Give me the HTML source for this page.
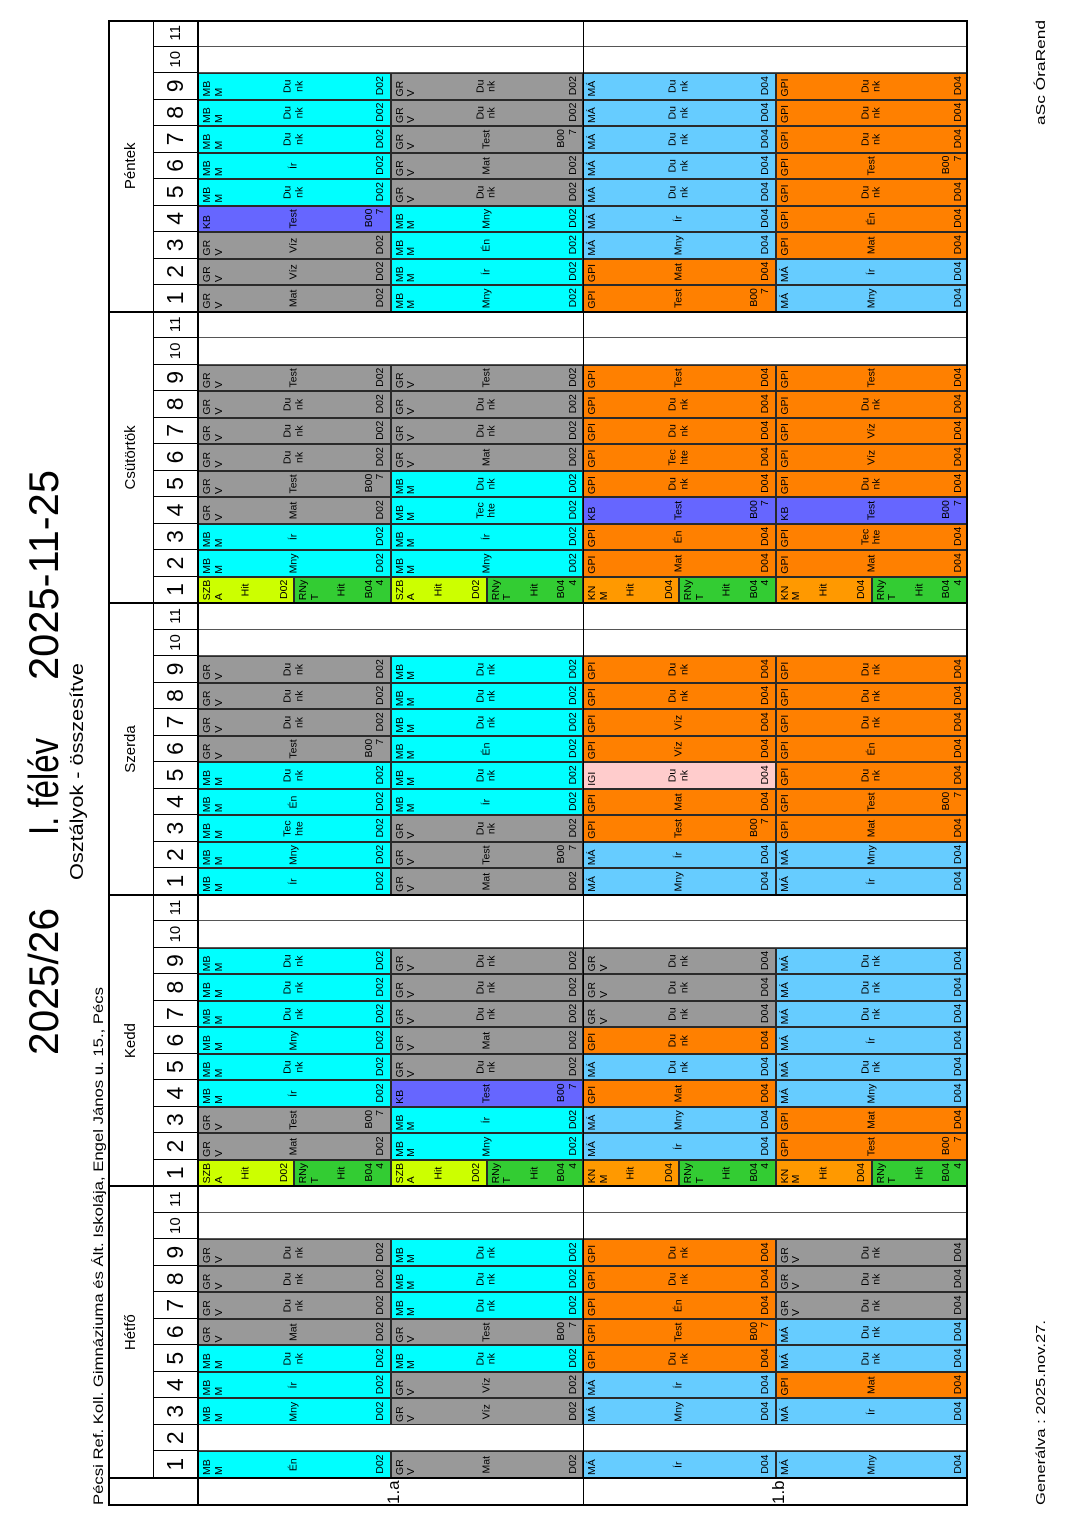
<!DOCTYPE html>
<html><head><meta charset="utf-8">
<style>
body{margin:0;width:1080px;height:1528px;position:relative;overflow:hidden;background:#fff;font-family:"Liberation Sans",Arial,sans-serif}
#L{position:absolute;left:0;top:0;width:1528px;height:1080px;transform-origin:0 0;transform:translateY(1528px) rotate(-90deg)}
svg{position:absolute;left:0;top:0}
.row{position:absolute;left:50px;width:1458px;height:192.5px;display:grid;grid-template-columns:repeat(55,1fr)}
.row>div{position:relative;box-sizing:border-box;font-size:10.5px;line-height:11.5px;color:#000}
.row div b,.row div i,.row div u{font-weight:normal;font-style:normal;text-decoration:none;position:absolute;white-space:nowrap}
.row div b{top:3px;left:2px}
.row div i{left:0;right:0;top:50%;transform:translateY(-50%);text-align:center}
.row div u{bottom:3px;right:2px;text-align:right}
.c,.g,.l,.o,.b,.p,.y,.n,.k{border:1px solid #2a2a2a;box-sizing:border-box;position:relative}
.c{background:#00ffff}.g{background:#999}.l{background:#66ccff}.o{background:#ff8000}.b{background:#6666ff}.p{background:#ffcccc}.y{background:#ccff00}.n{background:#33cc33}.k{background:#ff9900}
.e{border-left:1px solid #555}
.s{display:flex;flex-direction:column}
.s>div{flex:1}
.ph{position:absolute;left:50px;top:153px;width:1458px;height:45px;display:grid;grid-template-columns:repeat(55,1fr)}
.ph>div{border-left:1px solid #000;font-size:23px;text-align:center;line-height:45px}
.ph>div.sm{font-size:15px}
.dh{position:absolute;left:50px;top:108px;width:1458px;height:45px;display:grid;grid-template-columns:repeat(5,1fr)}
.dh>div{font-size:15px;text-align:center;line-height:45px}
.ln{position:absolute;background:#000}
</style></head><body>
<div id="L">
<svg width="1528" height="1080" font-family="Liberation Sans, Arial, sans-serif">
<text x="473" y="58" font-size="42" textLength="147" lengthAdjust="spacingAndGlyphs">2025/26</text>
<text x="693" y="58" font-size="42" textLength="97" lengthAdjust="spacingAndGlyphs">I. félév</text>
<text x="848" y="58" font-size="42" textLength="210" lengthAdjust="spacingAndGlyphs">2025-11-25</text>
<text x="648" y="83" font-size="18" textLength="217" lengthAdjust="spacingAndGlyphs">Osztályok - összesítve</text>
<text x="23" y="103" font-size="14" textLength="518" lengthAdjust="spacingAndGlyphs">Pécsi Ref. Koll. Gimnáziuma és Ált. Iskolája, Engel János u. 15., Pécs</text>
<text x="23" y="1045" font-size="13" textLength="185" lengthAdjust="spacingAndGlyphs">Generálva : 2025.nov.27.</text>
<text x="1403" y="1045" font-size="13" textLength="105" lengthAdjust="spacingAndGlyphs">aSc ÓraRend</text>
<text x="24" y="399" font-size="17">1.a</text>
<text x="24" y="784" font-size="17">1.b</text>
</svg>
<div class="dh"><div>Hétfő</div><div>Kedd</div><div>Szerda</div><div>Csütörtök</div><div>Péntek</div></div>
<div class="ph">
<div>1</div><div>2</div><div>3</div><div>4</div><div>5</div><div>6</div><div>7</div><div>8</div><div>9</div><div class="sm">10</div><div class="sm">11</div>
<div>1</div><div>2</div><div>3</div><div>4</div><div>5</div><div>6</div><div>7</div><div>8</div><div>9</div><div class="sm">10</div><div class="sm">11</div>
<div>1</div><div>2</div><div>3</div><div>4</div><div>5</div><div>6</div><div>7</div><div>8</div><div>9</div><div class="sm">10</div><div class="sm">11</div>
<div>1</div><div>2</div><div>3</div><div>4</div><div>5</div><div>6</div><div>7</div><div>8</div><div>9</div><div class="sm">10</div><div class="sm">11</div>
<div>1</div><div>2</div><div>3</div><div>4</div><div>5</div><div>6</div><div>7</div><div>8</div><div>9</div><div class="sm">10</div><div class="sm">11</div>
</div>

<!-- R1 -->
<div class="row" style="top:198px">
<div class="c"><b>MB<br>M</b><i>Én</i><u>D02</u></div><div class="e"></div><div class="c"><b>MB<br>M</b><i>Mny</i><u>D02</u></div><div class="c"><b>MB<br>M</b><i>Ír</i><u>D02</u></div><div class="c"><b>MB<br>M</b><i>Du<br>nk</i><u>D02</u></div><div class="g"><b>GR<br>V</b><i>Mat</i><u>D02</u></div><div class="g"><b>GR<br>V</b><i>Du<br>nk</i><u>D02</u></div><div class="g"><b>GR<br>V</b><i>Du<br>nk</i><u>D02</u></div><div class="g"><b>GR<br>V</b><i>Du<br>nk</i><u>D02</u></div><div class="e"></div><div class="e"></div>
<div class="s"><div class="y"><b>SZB<br>A</b><i>Hit</i><u>D02</u></div><div class="n"><b>RNy<br>T</b><i>Hit</i><u>B04<br>4</u></div></div><div class="g"><b>GR<br>V</b><i>Mat</i><u>D02</u></div><div class="g"><b>GR<br>V</b><i>Test</i><u>B00<br>7</u></div><div class="c"><b>MB<br>M</b><i>Ír</i><u>D02</u></div><div class="c"><b>MB<br>M</b><i>Du<br>nk</i><u>D02</u></div><div class="c"><b>MB<br>M</b><i>Mny</i><u>D02</u></div><div class="c"><b>MB<br>M</b><i>Du<br>nk</i><u>D02</u></div><div class="c"><b>MB<br>M</b><i>Du<br>nk</i><u>D02</u></div><div class="c"><b>MB<br>M</b><i>Du<br>nk</i><u>D02</u></div><div class="e"></div><div class="e"></div>
<div class="c"><b>MB<br>M</b><i>Ír</i><u>D02</u></div><div class="c"><b>MB<br>M</b><i>Mny</i><u>D02</u></div><div class="c"><b>MB<br>M</b><i>Tec<br>hte</i><u>D02</u></div><div class="c"><b>MB<br>M</b><i>Én</i><u>D02</u></div><div class="c"><b>MB<br>M</b><i>Du<br>nk</i><u>D02</u></div><div class="g"><b>GR<br>V</b><i>Test</i><u>B00<br>7</u></div><div class="g"><b>GR<br>V</b><i>Du<br>nk</i><u>D02</u></div><div class="g"><b>GR<br>V</b><i>Du<br>nk</i><u>D02</u></div><div class="g"><b>GR<br>V</b><i>Du<br>nk</i><u>D02</u></div><div class="e"></div><div class="e"></div>
<div class="s"><div class="y"><b>SZB<br>A</b><i>Hit</i><u>D02</u></div><div class="n"><b>RNy<br>T</b><i>Hit</i><u>B04<br>4</u></div></div><div class="c"><b>MB<br>M</b><i>Mny</i><u>D02</u></div><div class="c"><b>MB<br>M</b><i>Ír</i><u>D02</u></div><div class="g"><b>GR<br>V</b><i>Mat</i><u>D02</u></div><div class="g"><b>GR<br>V</b><i>Test</i><u>B00<br>7</u></div><div class="g"><b>GR<br>V</b><i>Du<br>nk</i><u>D02</u></div><div class="g"><b>GR<br>V</b><i>Du<br>nk</i><u>D02</u></div><div class="g"><b>GR<br>V</b><i>Du<br>nk</i><u>D02</u></div><div class="g"><b>GR<br>V</b><i>Test</i><u>D02</u></div><div class="e"></div><div class="e"></div>
<div class="g"><b>GR<br>V</b><i>Mat</i><u>D02</u></div><div class="g"><b>GR<br>V</b><i>Víz</i><u>D02</u></div><div class="g"><b>GR<br>V</b><i>Víz</i><u>D02</u></div><div class="b"><b>KB</b><i>Test</i><u>B00<br>7</u></div><div class="c"><b>MB<br>M</b><i>Du<br>nk</i><u>D02</u></div><div class="c"><b>MB<br>M</b><i>Ír</i><u>D02</u></div><div class="c"><b>MB<br>M</b><i>Du<br>nk</i><u>D02</u></div><div class="c"><b>MB<br>M</b><i>Du<br>nk</i><u>D02</u></div><div class="c"><b>MB<br>M</b><i>Du<br>nk</i><u>D02</u></div><div class="e"></div><div class="e"></div>
</div>

<!-- R2 -->
<div class="row" style="top:390.5px">
<div class="g"><b>GR<br>V</b><i>Mat</i><u>D02</u></div><div class="e"></div><div class="g"><b>GR<br>V</b><i>Víz</i><u>D02</u></div><div class="g"><b>GR<br>V</b><i>Víz</i><u>D02</u></div><div class="c"><b>MB<br>M</b><i>Du<br>nk</i><u>D02</u></div><div class="g"><b>GR<br>V</b><i>Test</i><u>B00<br>7</u></div><div class="c"><b>MB<br>M</b><i>Du<br>nk</i><u>D02</u></div><div class="c"><b>MB<br>M</b><i>Du<br>nk</i><u>D02</u></div><div class="c"><b>MB<br>M</b><i>Du<br>nk</i><u>D02</u></div><div class="e"></div><div class="e"></div>
<div class="s"><div class="y"><b>SZB<br>A</b><i>Hit</i><u>D02</u></div><div class="n"><b>RNy<br>T</b><i>Hit</i><u>B04<br>4</u></div></div><div class="c"><b>MB<br>M</b><i>Mny</i><u>D02</u></div><div class="c"><b>MB<br>M</b><i>Ír</i><u>D02</u></div><div class="b"><b>KB</b><i>Test</i><u>B00<br>7</u></div><div class="g"><b>GR<br>V</b><i>Du<br>nk</i><u>D02</u></div><div class="g"><b>GR<br>V</b><i>Mat</i><u>D02</u></div><div class="g"><b>GR<br>V</b><i>Du<br>nk</i><u>D02</u></div><div class="g"><b>GR<br>V</b><i>Du<br>nk</i><u>D02</u></div><div class="g"><b>GR<br>V</b><i>Du<br>nk</i><u>D02</u></div><div class="e"></div><div class="e"></div>
<div class="g"><b>GR<br>V</b><i>Mat</i><u>D02</u></div><div class="g"><b>GR<br>V</b><i>Test</i><u>B00<br>7</u></div><div class="g"><b>GR<br>V</b><i>Du<br>nk</i><u>D02</u></div><div class="c"><b>MB<br>M</b><i>Ír</i><u>D02</u></div><div class="c"><b>MB<br>M</b><i>Du<br>nk</i><u>D02</u></div><div class="c"><b>MB<br>M</b><i>Én</i><u>D02</u></div><div class="c"><b>MB<br>M</b><i>Du<br>nk</i><u>D02</u></div><div class="c"><b>MB<br>M</b><i>Du<br>nk</i><u>D02</u></div><div class="c"><b>MB<br>M</b><i>Du<br>nk</i><u>D02</u></div><div class="e"></div><div class="e"></div>
<div class="s"><div class="y"><b>SZB<br>A</b><i>Hit</i><u>D02</u></div><div class="n"><b>RNy<br>T</b><i>Hit</i><u>B04<br>4</u></div></div><div class="c"><b>MB<br>M</b><i>Mny</i><u>D02</u></div><div class="c"><b>MB<br>M</b><i>Ír</i><u>D02</u></div><div class="c"><b>MB<br>M</b><i>Tec<br>hte</i><u>D02</u></div><div class="c"><b>MB<br>M</b><i>Du<br>nk</i><u>D02</u></div><div class="g"><b>GR<br>V</b><i>Mat</i><u>D02</u></div><div class="g"><b>GR<br>V</b><i>Du<br>nk</i><u>D02</u></div><div class="g"><b>GR<br>V</b><i>Du<br>nk</i><u>D02</u></div><div class="g"><b>GR<br>V</b><i>Test</i><u>D02</u></div><div class="e"></div><div class="e"></div>
<div class="c"><b>MB<br>M</b><i>Mny</i><u>D02</u></div><div class="c"><b>MB<br>M</b><i>Ír</i><u>D02</u></div><div class="c"><b>MB<br>M</b><i>Én</i><u>D02</u></div><div class="c"><b>MB<br>M</b><i>Mny</i><u>D02</u></div><div class="g"><b>GR<br>V</b><i>Du<br>nk</i><u>D02</u></div><div class="g"><b>GR<br>V</b><i>Mat</i><u>D02</u></div><div class="g"><b>GR<br>V</b><i>Test</i><u>B00<br>7</u></div><div class="g"><b>GR<br>V</b><i>Du<br>nk</i><u>D02</u></div><div class="g"><b>GR<br>V</b><i>Du<br>nk</i><u>D02</u></div><div class="e"></div><div class="e"></div>
</div>

<!-- R3 -->
<div class="row" style="top:583px">
<div class="l"><b>MÁ</b><i>Ír</i><u>D04</u></div><div class="e"></div><div class="l"><b>MÁ</b><i>Mny</i><u>D04</u></div><div class="l"><b>MÁ</b><i>Ír</i><u>D04</u></div><div class="o"><b>GPI</b><i>Du<br>nk</i><u>D04</u></div><div class="o"><b>GPI</b><i>Test</i><u>B00<br>7</u></div><div class="o"><b>GPI</b><i>Én</i><u>D04</u></div><div class="o"><b>GPI</b><i>Du<br>nk</i><u>D04</u></div><div class="o"><b>GPI</b><i>Du<br>nk</i><u>D04</u></div><div class="e"></div><div class="e"></div>
<div class="s"><div class="k"><b>KN<br>M</b><i>Hit</i><u>D04</u></div><div class="n"><b>RNy<br>T</b><i>Hit</i><u>B04<br>4</u></div></div><div class="l"><b>MÁ</b><i>Ír</i><u>D04</u></div><div class="l"><b>MÁ</b><i>Mny</i><u>D04</u></div><div class="o"><b>GPI</b><i>Mat</i><u>D04</u></div><div class="l"><b>MÁ</b><i>Du<br>nk</i><u>D04</u></div><div class="o"><b>GPI</b><i>Du<br>nk</i><u>D04</u></div><div class="g"><b>GR<br>V</b><i>Du<br>nk</i><u>D04</u></div><div class="g"><b>GR<br>V</b><i>Du<br>nk</i><u>D04</u></div><div class="g"><b>GR<br>V</b><i>Du<br>nk</i><u>D04</u></div><div class="e"></div><div class="e"></div>
<div class="l"><b>MÁ</b><i>Mny</i><u>D04</u></div><div class="l"><b>MÁ</b><i>Ír</i><u>D04</u></div><div class="o"><b>GPI</b><i>Test</i><u>B00<br>7</u></div><div class="o"><b>GPI</b><i>Mat</i><u>D04</u></div><div class="p"><b>IGI</b><i>Du<br>nk</i><u>D04</u></div><div class="o"><b>GPI</b><i>Víz</i><u>D04</u></div><div class="o"><b>GPI</b><i>Víz</i><u>D04</u></div><div class="o"><b>GPI</b><i>Du<br>nk</i><u>D04</u></div><div class="o"><b>GPI</b><i>Du<br>nk</i><u>D04</u></div><div class="e"></div><div class="e"></div>
<div class="s"><div class="k"><b>KN<br>M</b><i>Hit</i><u>D04</u></div><div class="n"><b>RNy<br>T</b><i>Hit</i><u>B04<br>4</u></div></div><div class="o"><b>GPI</b><i>Mat</i><u>D04</u></div><div class="o"><b>GPI</b><i>Én</i><u>D04</u></div><div class="b"><b>KB</b><i>Test</i><u>B00<br>7</u></div><div class="o"><b>GPI</b><i>Du<br>nk</i><u>D04</u></div><div class="o"><b>GPI</b><i>Tec<br>hte</i><u>D04</u></div><div class="o"><b>GPI</b><i>Du<br>nk</i><u>D04</u></div><div class="o"><b>GPI</b><i>Du<br>nk</i><u>D04</u></div><div class="o"><b>GPI</b><i>Test</i><u>D04</u></div><div class="e"></div><div class="e"></div>
<div class="o"><b>GPI</b><i>Test</i><u>B00<br>7</u></div><div class="o"><b>GPI</b><i>Mat</i><u>D04</u></div><div class="l"><b>MÁ</b><i>Mny</i><u>D04</u></div><div class="l"><b>MÁ</b><i>Ír</i><u>D04</u></div><div class="l"><b>MÁ</b><i>Du<br>nk</i><u>D04</u></div><div class="l"><b>MÁ</b><i>Du<br>nk</i><u>D04</u></div><div class="l"><b>MÁ</b><i>Du<br>nk</i><u>D04</u></div><div class="l"><b>MÁ</b><i>Du<br>nk</i><u>D04</u></div><div class="l"><b>MÁ</b><i>Du<br>nk</i><u>D04</u></div><div class="e"></div><div class="e"></div>
</div>

<!-- R4 -->
<div class="row" style="top:775.5px">
<div class="l"><b>MÁ</b><i>Mny</i><u>D04</u></div><div class="e"></div><div class="l"><b>MÁ</b><i>Ír</i><u>D04</u></div><div class="o"><b>GPI</b><i>Mat</i><u>D04</u></div><div class="l"><b>MÁ</b><i>Du<br>nk</i><u>D04</u></div><div class="l"><b>MÁ</b><i>Du<br>nk</i><u>D04</u></div><div class="g"><b>GR<br>V</b><i>Du<br>nk</i><u>D04</u></div><div class="g"><b>GR<br>V</b><i>Du<br>nk</i><u>D04</u></div><div class="g"><b>GR<br>V</b><i>Du<br>nk</i><u>D04</u></div><div class="e"></div><div class="e"></div>
<div class="s"><div class="k"><b>KN<br>M</b><i>Hit</i><u>D04</u></div><div class="n"><b>RNy<br>T</b><i>Hit</i><u>B04<br>4</u></div></div><div class="o"><b>GPI</b><i>Test</i><u>B00<br>7</u></div><div class="o"><b>GPI</b><i>Mat</i><u>D04</u></div><div class="l"><b>MÁ</b><i>Mny</i><u>D04</u></div><div class="l"><b>MÁ</b><i>Du<br>nk</i><u>D04</u></div><div class="l"><b>MÁ</b><i>Ír</i><u>D04</u></div><div class="l"><b>MÁ</b><i>Du<br>nk</i><u>D04</u></div><div class="l"><b>MÁ</b><i>Du<br>nk</i><u>D04</u></div><div class="l"><b>MÁ</b><i>Du<br>nk</i><u>D04</u></div><div class="e"></div><div class="e"></div>
<div class="l"><b>MÁ</b><i>Ír</i><u>D04</u></div><div class="l"><b>MÁ</b><i>Mny</i><u>D04</u></div><div class="o"><b>GPI</b><i>Mat</i><u>D04</u></div><div class="o"><b>GPI</b><i>Test</i><u>B00<br>7</u></div><div class="o"><b>GPI</b><i>Du<br>nk</i><u>D04</u></div><div class="o"><b>GPI</b><i>Én</i><u>D04</u></div><div class="o"><b>GPI</b><i>Du<br>nk</i><u>D04</u></div><div class="o"><b>GPI</b><i>Du<br>nk</i><u>D04</u></div><div class="o"><b>GPI</b><i>Du<br>nk</i><u>D04</u></div><div class="e"></div><div class="e"></div>
<div class="s"><div class="k"><b>KN<br>M</b><i>Hit</i><u>D04</u></div><div class="n"><b>RNy<br>T</b><i>Hit</i><u>B04<br>4</u></div></div><div class="o"><b>GPI</b><i>Mat</i><u>D04</u></div><div class="o"><b>GPI</b><i>Tec<br>hte</i><u>D04</u></div><div class="b"><b>KB</b><i>Test</i><u>B00<br>7</u></div><div class="o"><b>GPI</b><i>Du<br>nk</i><u>D04</u></div><div class="o"><b>GPI</b><i>Víz</i><u>D04</u></div><div class="o"><b>GPI</b><i>Víz</i><u>D04</u></div><div class="o"><b>GPI</b><i>Du<br>nk</i><u>D04</u></div><div class="o"><b>GPI</b><i>Test</i><u>D04</u></div><div class="e"></div><div class="e"></div>
<div class="l"><b>MÁ</b><i>Mny</i><u>D04</u></div><div class="l"><b>MÁ</b><i>Ír</i><u>D04</u></div><div class="o"><b>GPI</b><i>Mat</i><u>D04</u></div><div class="o"><b>GPI</b><i>Én</i><u>D04</u></div><div class="o"><b>GPI</b><i>Du<br>nk</i><u>D04</u></div><div class="o"><b>GPI</b><i>Test</i><u>B00<br>7</u></div><div class="o"><b>GPI</b><i>Du<br>nk</i><u>D04</u></div><div class="o"><b>GPI</b><i>Du<br>nk</i><u>D04</u></div><div class="o"><b>GPI</b><i>Du<br>nk</i><u>D04</u></div><div class="e"></div><div class="e"></div>
</div>

<!-- lines -->
<div class="ln" style="left:50px;top:153px;width:1458px;height:1px"></div>
<div class="ln" style="left:22px;top:197px;width:1486px;height:2px"></div>
<div class="ln" style="left:22px;top:583px;width:1486px;height:1px"></div>
<div class="ln" style="left:49px;top:108px;width:2px;height:860px"></div>
<div class="ln" style="left:340.6px;top:108px;width:2px;height:860px"></div>
<div class="ln" style="left:632.2px;top:108px;width:2px;height:860px"></div>
<div class="ln" style="left:923.8px;top:108px;width:2px;height:860px"></div>
<div class="ln" style="left:1215.4px;top:108px;width:2px;height:860px"></div>
<div style="position:absolute;left:22px;top:108px;width:1486px;height:860px;border:2px solid #000;box-sizing:border-box"></div>
</div>
</body></html>
